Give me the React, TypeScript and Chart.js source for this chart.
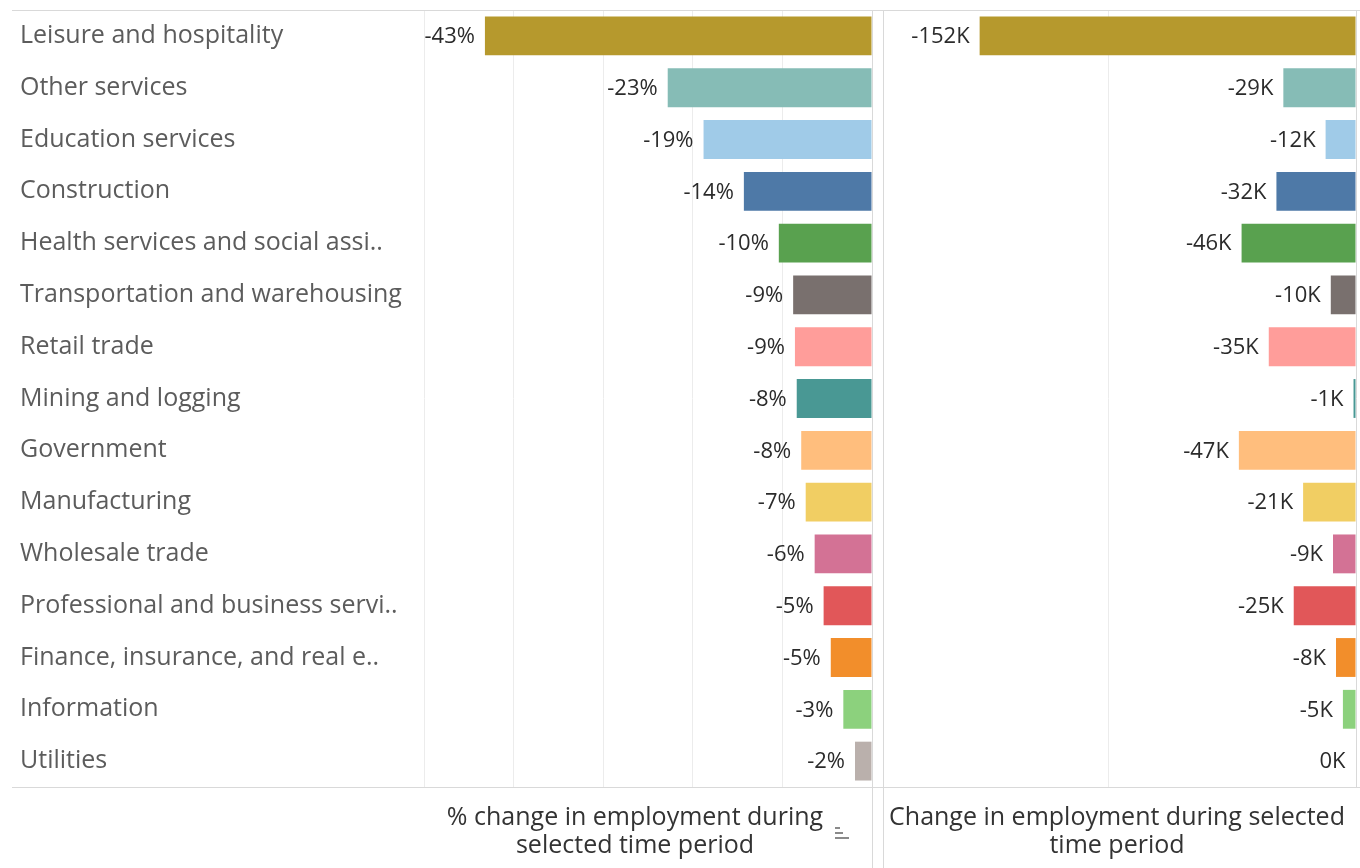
import React, { useEffect, useRef } from "react";
import { Chart, registerables } from "chart.js";

Chart.register(...registerables);

const categories = [
  "Leisure and hospitality",
  "Other services",
  "Education services",
  "Construction",
  "Health services and social assi..",
  "Transportation and warehousing",
  "Retail trade",
  "Mining and logging",
  "Government",
  "Manufacturing",
  "Wholesale trade",
  "Professional and business servi..",
  "Finance, insurance, and real e..",
  "Information",
  "Utilities",
];

// % change in employment
const pctChange = [-43.2, -22.8, -18.8, -14.3, -10.4, -8.8, -8.6, -8.4, -7.9, -7.4, -6.4, -5.4, -4.6, -3.2, -1.9];
// change in employment, thousands
const absChange = [-152.3, -29.4, -12.3, -32.2, -46.3, -10.2, -35.3, -1.0, -47.4, -21.4, -9.3, -25.2, -8.1, -5.3, -0.2];

const barColors = [
  "#B6992D", "#86BCB6", "#A0CBE8", "#4E79A7", "#59A14F",
  "#79706E", "#FF9D9A", "#499894", "#FFBE7D", "#F1CE63",
  "#D37295", "#E15759", "#F28E2B", "#8CD17D", "#BAB0AC",
];

const pctTicks = [-50, -40, -30, -20, -10, 0];
const absTicks = [-100, 0];

const pctTitle = ["% change in employment during", "selected time period"];
const absTitle = ["Change in employment during selected", "time period"];

const FONT = "'Open Sans', 'DejaVu Sans', sans-serif";
const LINE = "#d9d9d9";
const GRID = "#ececec";

function labelPlugin(fmt: (v: number) => string) {
  return {
    id: "barLabels",
    afterDatasetsDraw(chart: any) {
      const ctx = chart.ctx;
      const meta = chart.getDatasetMeta(0);
      const data = chart.data.datasets[0].data as number[];
      ctx.save();
      ctx.font = `22px ${FONT}`;
      ctx.fillStyle = "#2b2b2b";
      ctx.textAlign = "right";
      ctx.textBaseline = "middle";
      meta.data.forEach((bar: any, i: number) => {
        ctx.fillText(fmt(data[i]), Math.min(bar.x, bar.base) - 10, bar.y + 1);
      });
      ctx.restore();
    },
  };
}

function framePlugin(side: "left" | "right", title: string[], dx: number) {
  return {
    id: "frame",
    afterDraw(chart: any) {
      const ctx = chart.ctx;
      const a = chart.chartArea;
      const W = chart.width;
      const H = chart.height;
      ctx.save();
      ctx.strokeStyle = LINE;
      ctx.lineWidth = 1;
      ctx.beginPath();
      const x0 = side === "left" ? 12 : 0;
      ctx.moveTo(x0, a.top + 0.5);
      ctx.lineTo(W, a.top + 0.5);
      ctx.moveTo(x0, a.bottom + 0.5);
      ctx.lineTo(W, a.bottom + 0.5);
      if (side === "left") {
        ctx.moveTo(a.right + 0.5, a.top);
        ctx.lineTo(a.right + 0.5, H);
      } else {
        ctx.moveTo(a.left - 0.5, a.top);
        ctx.lineTo(a.left - 0.5, H);
        ctx.moveTo(a.right + 0.5, a.top);
        ctx.lineTo(a.right + 0.5, a.bottom);
      }
      ctx.stroke();

      // axis title
      ctx.fillStyle = "#333";
      ctx.font = `25px ${FONT}`;
      ctx.textAlign = "center";
      ctx.textBaseline = "middle";
      const cx = (a.left + a.right) / 2 + dx;
      title.forEach((t, i) => ctx.fillText(t, cx, a.bottom + 31 + i * 28));

      if (side === "left") {
        // small sort icon next to the axis title
        ctx.strokeStyle = "#8a8a8a";
        ctx.lineWidth = 2;
        ctx.beginPath();
        const ix = 835, iy = 828;
        ctx.moveTo(ix, iy); ctx.lineTo(ix + 5, iy);
        ctx.moveTo(ix, iy + 5); ctx.lineTo(ix + 8, iy + 5);
        ctx.moveTo(ix, iy + 10); ctx.lineTo(ix + 14, iy + 10);
        ctx.stroke();
      }
      ctx.restore();
    },
  };
}

function makeChart(
  canvas: HTMLCanvasElement,
  values: number[],
  min: number,
  ticks: number[],
  title: string[],
  side: "left" | "right",
  dx: number,
  fmt: (v: number) => string
) {
  return new Chart(canvas, {
    type: "bar",
    data: {
      labels: categories,
      datasets: [
        {
          data: values,
          backgroundColor: barColors,
          borderWidth: 0,
          barPercentage: 0.75,
          categoryPercentage: 1,
        },
      ],
    },
    options: {
      indexAxis: "y",
      animation: false,
      responsive: false,
      maintainAspectRatio: false,
      layout: {
        padding: side === "left" ? { top: 10, left: 20, right: 6, bottom: 0 } : { top: 10, left: 6, right: 4, bottom: 0 },
      },
      plugins: { legend: { display: false }, tooltip: { enabled: false } },
      scales: {
        x: {
          type: "linear",
          min,
          max: 0,
          afterBuildTicks: (s: any) => {
            s.ticks = ticks.map((v) => ({ value: v }));
          },
          afterFit: (s: any) => {
            s.height = 81;
            s.paddingLeft = 0;
            s.paddingRight = 0;
          },
          ticks: { display: false },
          grid: {
            color: (c: any) => (c.tick && c.tick.value === 0 ? "rgba(0,0,0,0)" : GRID),
            drawTicks: false,
          },
          border: { display: false },
          title: { display: false },
        },
        y: {
          type: "category",
          display: side === "left",
          afterFit: (s: any) => {
            if (side === "left") s.width = 404;
            s.paddingTop = 0;
            s.paddingBottom = 0;
          },
          grid: { display: false, drawTicks: false },
          border: { display: false },
          ticks: {
            crossAlign: "far",
            color: "#5c5c5c",
            padding: 0,
            font: { family: FONT, size: 25 },
          },
        },
      },
    },
    plugins: [labelPlugin(fmt), framePlugin(side, title, dx)],
  } as any);
}

export default function App() {
  const leftRef = useRef<HTMLCanvasElement>(null);
  const rightRef = useRef<HTMLCanvasElement>(null);

  useEffect(() => {
    const c1 = makeChart(leftRef.current!, pctChange, -50, pctTicks, pctTitle, "left", -13, (v) => `${Math.round(v)}%`);
    const c2 = makeChart(rightRef.current!, absChange, -191, absTicks, absTitle, "right", -3, (v) => `${Math.round(v)}K`);
    return () => {
      c1.destroy();
      c2.destroy();
    };
  }, []);

  return (
    <div style={{ position: "fixed", left: 0, top: 0, width: 1360, height: 868, background: "#fff" }}>
      <canvas ref={leftRef} width={878} height={868} style={{ position: "absolute", left: 0, top: 0, width: 878, height: 868 }} />
      <canvas ref={rightRef} width={482} height={868} style={{ position: "absolute", left: 878, top: 0, width: 482, height: 868 }} />
    </div>
  );
}
